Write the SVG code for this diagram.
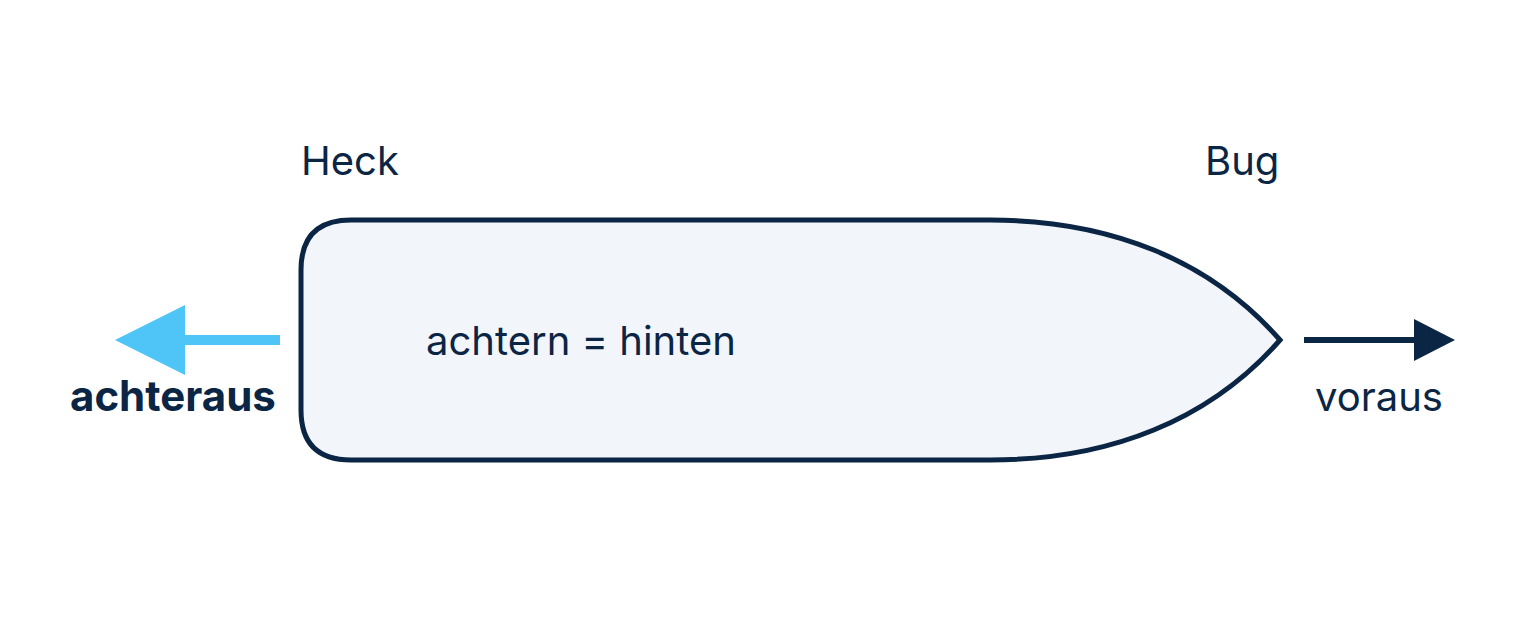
<svg xmlns="http://www.w3.org/2000/svg" width="1520" height="640" viewBox="0 0 1520 640">
<style>
.t{font-family:Inter,"Noto Sans","Liberation Sans",sans-serif;font-size:40px;fill:#0b2545}
.b{font-weight:700;font-size:42px}
</style>
<defs>
<marker id="hb" markerUnits="userSpaceOnUse" markerWidth="72" markerHeight="72" refX="1" refY="35" orient="auto"><path d="M0,0 L70,35 L0,70 Z" fill="#4fc4f7"/></marker>
<marker id="hn" markerUnits="userSpaceOnUse" markerWidth="44" markerHeight="44" refX="1" refY="21" orient="auto"><path d="M0,0 L41,21 L0,42 Z" fill="#0b2545"/></marker>
</defs>
<rect width="1520" height="640" fill="#ffffff"/>
<g id="hull">
<path d="M351,220 L990,220 C1110,220 1210,260 1280,340 C1210,420 1110,460 990,460 L351,460 Q301,460 301,410 L301,270 Q301,220 351,220 Z" fill="#f2f6fa" stroke="#0b2545" stroke-width="5" stroke-linejoin="miter"/>
<text class="t" x="426" y="355">achtern = hinten</text>
</g>
<g id="heck"><text class="t" x="301" y="175">Heck</text></g>
<g id="bug"><text class="t" x="1205" y="175">Bug</text></g>
<g id="achteraus"><text class="t b" x="70" y="411">achteraus</text></g>
<g id="voraus"><text class="t" x="1315" y="411">voraus</text></g>
<g id="connectors">
<line x1="280" y1="340" x2="184" y2="340" stroke="#4fc4f7" stroke-width="10" marker-end="url(#hb)"/>
<line x1="1304" y1="340" x2="1415" y2="340" stroke="#0b2545" stroke-width="6" marker-end="url(#hn)"/>
</g>
</svg>
